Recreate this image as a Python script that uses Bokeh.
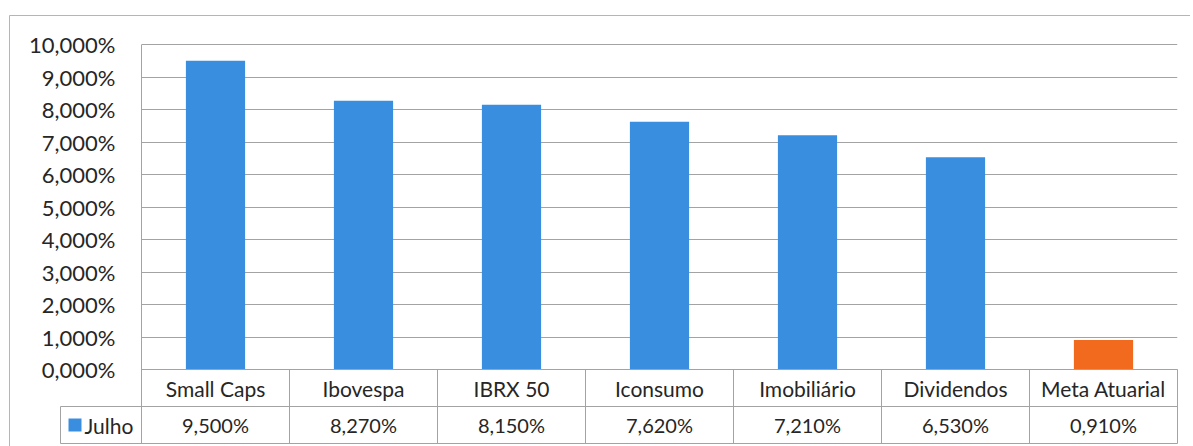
from bokeh.plotting import figure
from bokeh.models import Range1d, FixedTicker, CustomJSTickFormatter
from bokeh.core.properties import value
from bokeh.embed import file_html
from bokeh.resources import INLINE

# ---------------- data ----------------
categories = ["Small Caps", "Ibovespa", "IBRX 50", "Iconsumo", "Imobiliário", "Dividendos", "Meta Atuarial"]
julho = [9.500, 8.270, 8.150, 7.620, 7.210, 6.530, 0.910]
series_name = "Julho"
y_ticks = [0, 1, 2, 3, 4, 5, 6, 7, 8, 9, 10]

# ---------------- style / geometry ----------------
BLUE = "#3a8ee0"
ORANGE = "#f26a1e"
GRID = "#a3a3a3"
TEXT = "#262626"
FONT = value("Lato")
FS = "20px"

n = len(categories)
PX_Y = 32.5          # pixels per percentage point
PX_X = 148.0         # pixels per category
FRAME_LEFT, FRAME_TOP = 141, 43
FRAME_W = PX_X * n
FRAME_H = 402
W, H = 1190, 446

y_end = 10 + 1 / PX_Y
y_start = y_end - FRAME_H / PX_Y
row_h = 37 / PX_Y


def px_to_x(px):
    return (px - FRAME_LEFT) / PX_X


def py_to_y(py):
    return y_end - (py - FRAME_TOP) / PX_Y


p = figure(width=W, height=H, output_backend="svg", toolbar_location=None,
           x_range=Range1d(0, n), y_range=Range1d(y_start, y_end),
           x_axis_location=None, min_border_left=FRAME_LEFT,
           min_border_right=int(W - FRAME_LEFT - FRAME_W),
           min_border_top=FRAME_TOP, min_border_bottom=H - FRAME_TOP - FRAME_H,
           background_fill_color="white", border_fill_color="white")
p.outline_line_color = None
p.xgrid.visible = False
p.ygrid.ticker = FixedTicker(ticks=y_ticks)
p.ygrid.grid_line_color = GRID
p.ygrid.grid_line_width = 1

ax = p.yaxis[0]
ax.ticker = FixedTicker(ticks=y_ticks)
ax.formatter = CustomJSTickFormatter(code="return tick.toFixed(3).replace('.', ',') + '%';")
ax.axis_line_color = None
ax.major_tick_line_color = None
ax.minor_tick_line_color = None
ax.major_label_standoff = 20
ax.major_label_text_font = "Lato"
ax.major_label_text_font_size = "22px"
ax.major_label_text_color = TEXT

# bars
xs = [i + 0.5 for i in range(n)]
colors = [BLUE] * (n - 1) + [ORANGE]
p.vbar(x=xs, top=julho, width=0.4, bottom=0, fill_color=colors, line_color=None)

# data table lines
x_left = px_to_x(60)
h_x0 = [0, x_left, x_left]
h_x1 = [n, n, n]
h_y = [0, -row_h, -2 * row_h]
p.segment(x0=h_x0, y0=h_y, x1=h_x1, y1=h_y, line_color=GRID, line_width=1, level="overlay")
v_x = [0] + list(range(1, n + 1)) + [x_left]
v_y0 = [-2 * row_h] * (n + 1) + [-2 * row_h]
v_y1 = [10] + [0] * n + [-row_h]
p.segment(x0=v_x, y0=v_y0, x1=v_x, y1=v_y1, line_color=GRID, line_width=1, level="overlay")

# outer chart border
bx = px_to_x(9)
by = py_to_y(15)
p.segment(x0=[bx, bx], y0=[by, by], x1=[px_to_x(1200), bx], y1=[by, py_to_y(460)],
          line_color="#b5b5b5", line_width=1, level="overlay")

# table texts
value_labels = [f"{v:.3f}".replace(".", ",") + "%" for v in julho]
p.text(x=xs, y=[-row_h / 2] * n, text=categories, text_align="center", text_baseline="middle",
       text_font=FONT, text_font_size="21px", text_color=TEXT)
p.text(x=xs, y=[-1.5 * row_h] * n, text=value_labels, text_align="center", text_baseline="middle",
       text_font=FONT, text_font_size=FS, text_color=TEXT)

# legend key cell (square drawn as a thick butt-capped segment)
ky = -1.5 * row_h
p.segment(x0=[px_to_x(68)], y0=[ky], x1=[px_to_x(81)], y1=[ky], line_color=BLUE,
          line_width=13, line_cap="butt", level="overlay")
p.text(x=[px_to_x(84)], y=[ky], text=[series_name], text_align="left", text_baseline="middle",
       text_font=FONT, text_font_size="21px", text_color=TEXT, level="overlay")

open("out.html", "w").write(file_html(p, INLINE))
